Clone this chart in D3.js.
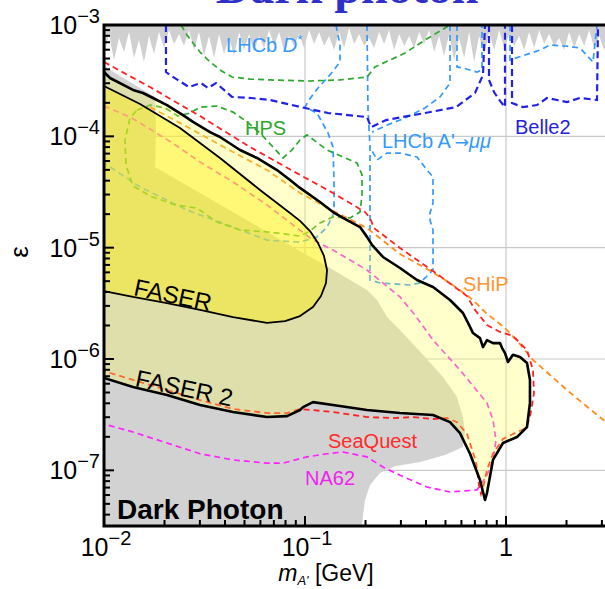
<!DOCTYPE html>
<html><head><meta charset="utf-8">
<script src="https://cdn.jsdelivr.net/npm/d3@7/dist/d3.min.js"></script>
<style>body{margin:0;background:#fff}svg{display:block}</style>
</head><body>
<svg id="c" width="605" height="589"></svg>
<script>
// ---------------- data (mass m in GeV, coupling epsilon) ----------------
const xDomain = [0.01, 3.1623];
const yDomain = [3.1623e-8, 1e-3];
const gridX = [0.1, 1];
const gridY = [1e-4, 1e-5, 1e-6, 1e-7];
const xTickLabels = [{v:0.01, b:"10", e:"\u22122"}, {v:0.1, b:"10", e:"\u22121"}, {v:1, b:"1", e:""}];
const yTickLabels = [{v:1e-3, e:"\u22123"}, {v:1e-4, e:"\u22124"}, {v:1e-5, e:"\u22125"}, {v:1e-6, e:"\u22126"}, {v:1e-7, e:"\u22127"}];

// existing constraints, top (jagged lower boundary)
const topBand = [[0.0100,5.27e-4],[0.01059,8.30e-4],[0.01121,4.85e-4],[0.01188,7.64e-4],[0.01258,5.71e-4],[0.01332,8.65e-4],[0.01410,5.06e-4],[0.01493,7.33e-4],[0.01581,4.66e-4],[0.01675,7.96e-4],[0.01773,5.49e-4],[0.01878,8.65e-4],[0.01989,6.21e-4],[0.02106,9.02e-4],[0.02230,6.75e-4],[0.02362,8.30e-4],[0.02501,6.47e-4],[0.02648,9.02e-4],[0.02805,5.96e-4],[0.02970,8.65e-4],[0.03145,5.27e-4],[0.03331,7.96e-4],[0.03527,5.06e-4],[0.03735,8.30e-4],[0.03955,5.49e-4],[0.04189,7.64e-4],[0.04436,5.27e-4],[0.04697,8.65e-4],[0.04974,5.96e-4],[0.05268,8.30e-4],[0.05578,5.71e-4],[0.05907,7.96e-4],[0.06256,6.21e-4],[0.06625,9.02e-4],[0.07015,6.47e-4],[0.07429,8.65e-4],[0.07867,5.96e-4],[0.08331,7.96e-4],[0.08822,6.47e-4],[0.09342,8.30e-4],[0.09894,6.21e-4],[0.1048,9.02e-4],[0.1110,6.75e-4],[0.1175,8.65e-4],[0.1244,6.47e-4],[0.1318,7.96e-4],[0.1395,5.96e-4],[0.1478,8.65e-4],[0.1565,6.21e-4],[0.1657,9.40e-4],[0.1755,6.75e-4],[0.1858,8.30e-4],[0.1968,6.47e-4],[0.2084,7.64e-4],[0.2207,6.21e-4],[0.2337,8.65e-4],[0.2475,6.75e-4],[0.2621,9.02e-4],[0.2775,5.96e-4],[0.2939,8.30e-4],[0.3112,6.47e-4],[0.3296,7.96e-4],[0.3490,6.21e-4],[0.3696,8.65e-4],[0.3914,6.75e-4],[0.4145,9.02e-4],[0.4389,5.71e-4],[0.4648,7.96e-4],[0.4922,5.27e-4],[0.5212,8.30e-4],[0.5520,4.85e-4],[0.5845,7.64e-4],[0.6190,5.06e-4],[0.6555,8.65e-4],[0.6942,4.66e-4],[0.7351,7.96e-4],[0.7785,5.49e-4],[0.8243,8.65e-4],[0.8730,5.96e-4],[0.9244,9.02e-4],[0.9790,6.21e-4],[1.037,8.30e-4],[1.098,6.47e-4],[1.163,7.96e-4],[1.231,5.96e-4],[1.304,8.65e-4],[1.381,6.21e-4],[1.462,9.02e-4],[1.548,6.75e-4],[1.639,8.30e-4],[1.736,6.47e-4],[1.838,7.64e-4],[1.947,5.96e-4],[2.062,8.65e-4],[2.184,6.21e-4],[2.312,8.30e-4],[2.449,6.47e-4],[2.593,9.02e-4],[2.746,6.21e-4],[2.908,7.96e-4],[3.080,5.96e-4],[3.26,8.30e-4]];

// existing constraints, beam dumps (closed region)
const beamDump = [[0.01,3.16e-8],[0.01,4.28e-4],[0.01347,3.08e-4],[0.01794,2.26e-4],[0.01815,1.14e-4],[0.01794,5.30e-5],[0.03004,3.10e-5],[0.05327,1.70e-5],[0.09443,9.33e-6],[0.1331,6.57e-6],[0.1581,5.45e-6],[0.2034,4.17e-6],[0.2282,3.39e-6],[0.2558,2.38e-6],[0.2969,1.82e-6],[0.3864,1.09e-6],[0.4860,6.89e-7],[0.5705,4.56e-7],[0.6109,2.95e-7],[0.6252,2.21e-7],[0.6109,1.62e-7],[0.4973,1.37e-7],[0.3733,1.19e-7],[0.2804,1.09e-7],[0.2361,9.47e-8],[0.2106,7.38e-8],[0.1989,5.41e-8],[0.1944,3.97e-8],[0.1922,3.16e-8]];

// FASER 2 reach
const faser2 = [[0.0100,3.78e-4],[0.01071,3.34e-4],[0.01394,2.61e-4],[0.01563,2.45e-4],[0.01753,2.21e-4],[0.02058,1.91e-4],[0.02472,1.55e-4],[0.02772,1.35e-4],[0.03369,1.09e-4],[0.03777,9.86e-5],[0.04750,7.54e-5],[0.05770,6.39e-5],[0.07256,4.98e-5],[0.08421,4.05e-5],[0.09443,3.44e-5],[0.1187,2.57e-5],[0.1378,2.09e-5],[0.1545,1.85e-5],[0.1878,1.53e-5],[0.2034,1.25e-5],[0.2154,1.06e-5],[0.2443,8.25e-6],[0.2969,6.57e-6],[0.3607,5.12e-6],[0.4334,4.43e-6],[0.5266,3.39e-6],[0.6109,2.59e-6],[0.6622,1.94e-6],[0.6852,1.71e-6],[0.7424,1.54e-6],[0.7683,1.28e-6],[0.8043,1.48e-6],[0.8614,1.39e-6],[0.9336,1.39e-6],[0.9552,1.26e-6],[0.9886,1.13e-6],[1.023,9.40e-7],[1.083,1.09e-6],[1.174,1.04e-6],[1.272,9.21e-7],[1.316,6.48e-7],[1.316,4.03e-7],[1.272,2.45e-7],[1.134,1.99e-7],[0.9661,1.76e-7],[0.8614,1.24e-7],[0.8043,6.26e-8],[0.7862,5.41e-8],[0.7424,8.19e-8],[0.6622,1.41e-7],[0.5904,2.16e-7],[0.5266,2.71e-7],[0.4334,3.14e-7],[0.2969,3.27e-7],[0.2034,3.48e-7],[0.1378,3.86e-7],[0.1096,4.10e-7],[0.09772,3.70e-7],[0.09443,3.48e-7],[0.08137,3.07e-7],[0.06470,3.01e-7],[0.04384,3.34e-7],[0.03004,3.86e-7],[0.02058,4.76e-7],[0.01394,5.61e-7],[0.0100,6.76e-7]];

// FASER reach
const faser1 = [[0.0100,2.83e-4],[0.01511,1.95e-4],[0.02388,1.19e-4],[0.03777,6.39e-5],[0.05971,3.30e-5],[0.08421,2.05e-5],[0.09443,1.74e-5],[0.1059,1.41e-5],[0.1161,1.10e-5],[0.1243,8.42e-6],[0.1287,6.30e-6],[0.1272,4.82e-6],[0.1201,3.68e-6],[0.1096,2.93e-6],[0.09443,2.43e-6],[0.07954,2.19e-6],[0.06470,2.11e-6],[0.04384,2.38e-6],[0.03004,2.76e-6],[0.02058,3.18e-6],[0.01394,3.61e-6],[0.0100,4.08e-6]];

// SeaQuest
const seaQuest = [[0.0100,4.65e-4],[0.01694,2.77e-4],[0.03004,1.52e-4],[0.05327,8.02e-5],[0.09443,4.50e-5],[0.1378,3.10e-5],[0.1989,2.09e-5],[0.2106,1.85e-5],[0.2204,1.50e-5],[0.2969,9.93e-6],[0.4334,6.17e-6],[0.6397,3.68e-6],[0.7010,2.76e-6],[0.8043,2.02e-6],[0.9336,1.75e-6],[1.083,1.61e-6],[1.272,1.20e-6],[1.362,7.96e-7],[1.378,4.95e-7],[1.316,3.01e-7],[1.258,2.40e-7],[1.083,2.12e-7],[0.9661,1.91e-7],[0.8614,1.41e-7],[0.8043,1.01e-7],[0.7683,6.94e-8],[0.7510,6.13e-8],[0.7339,7.38e-8],[0.7092,1.19e-7],[0.6397,2.12e-7],[0.5705,2.71e-7],[0.5087,2.95e-7],[0.4334,2.89e-7],[0.3446,3.01e-7],[0.2740,2.95e-7],[0.2034,3.01e-7],[0.1378,3.34e-7],[0.09443,3.56e-7],[0.08137,3.27e-7],[0.06470,3.27e-7],[0.04384,3.56e-7],[0.03004,4.28e-7],[0.02058,5.27e-7],[0.01394,6.48e-7],[0.0100,7.80e-7]];

// SHiP
const ship = [[0.01694,1.83e-4],[0.02388,1.32e-4],[0.03004,1.05e-4],[0.04384,7.23e-5],[0.06470,4.98e-5],[0.09443,3.10e-5],[0.1378,2.14e-5],[0.2034,1.50e-5],[0.2969,8.77e-6],[0.4045,6.43e-6],[0.5266,4.82e-6],[0.6852,3.39e-6],[0.8043,2.54e-6],[0.9336,2.06e-6],[1.011,1.82e-6],[1.174,1.36e-6],[1.362,9.80e-7],[1.656,7.18e-7],[2.011,5.27e-7],[2.472,3.86e-7],[3.144,2.72e-7]];

// NA62
const na62 = [[0.0100,1.87e-4],[0.01347,1.49e-4],[0.01753,1.12e-4],[0.02307,8.19e-5],[0.03004,5.88e-5],[0.04384,3.89e-5],[0.06470,2.42e-5],[0.08714,1.60e-5],[0.1096,1.17e-5],[0.1378,9.53e-6],[0.2034,6.30e-6],[0.2969,3.61e-6],[0.3526,2.48e-6],[0.4334,1.48e-6],[0.5904,7.96e-7],[0.8043,4.03e-7],[0.8614,2.83e-7],[0.8918,1.87e-7],[0.8614,1.24e-7],[0.8043,9.03e-8],[0.7173,6.66e-8],[0.5266,6.39e-8],[0.4045,7.08e-8],[0.2969,9.03e-8],[0.2443,1.07e-7],[0.2034,1.32e-7],[0.1545,1.46e-7],[0.1287,1.41e-7],[0.1023,1.32e-7],[0.07772,1.16e-7],[0.06470,1.16e-7],[0.04384,1.24e-7],[0.03004,1.41e-7],[0.02058,1.76e-7],[0.01394,2.21e-7],[0.0100,2.60e-7]];

// HPS
const hpsTop = [[0.02416,1e-3],[0.02588,8.13e-4],[0.02772,6.89e-4],[0.03004,5.72e-4],[0.03291,4.85e-4],[0.03777,3.94e-4],[0.04333,3.41e-4],[0.05327,3.27e-4],[0.06697,3.21e-4],[0.1047,3.14e-4],[0.1493,3.21e-4],[0.2034,3.41e-4],[0.2230,4.20e-4],[0.2648,4.85e-4],[0.3145,5.60e-4],[0.3954,7.33e-4],[0.5266,1e-3]];
const hpsLoop = [[0.01459,1.72e-4],[0.01694,1.91e-4],[0.02011,1.80e-4],[0.02334,1.52e-4],[0.02679,1.62e-4],[0.03004,1.83e-4],[0.03649,1.87e-4],[0.04384,1.65e-4],[0.05146,1.35e-4],[0.05971,1.07e-4],[0.06932,8.02e-5],[0.07772,6.39e-5],[0.08614,7.54e-5],[0.09443,9.27e-5],[0.1023,1.03e-4],[0.1287,7.54e-5],[0.1814,5.76e-5],[0.1922,4.50e-5],[0.1922,2.97e-5],[0.1878,2.09e-5],[0.1674,1.85e-5],[0.1378,1.89e-5],[0.1187,1.67e-5],[0.1059,1.41e-5],[0.09443,1.27e-5],[0.06697,1.38e-5],[0.04750,1.44e-5],[0.03649,1.70e-5],[0.02902,2.27e-5],[0.02255,2.42e-5],[0.01694,2.91e-5],[0.01394,3.58e-5],[0.01287,5.53e-5],[0.01272,9.27e-5],[0.01347,1.46e-4],[0.01459,1.72e-4]];

// LHCb (light blue)
const lhcb1 = [[0.1426,1e-3],[0.1493,6.61e-4],[0.1493,4.65e-4],[0.1331,3.56e-4],[0.1161,2.72e-4],[0.1047,2.12e-4],[0.1000,1.83e-4],[0.1147,1.62e-4],[0.1302,1.07e-4],[0.1378,8.02e-5],[0.1394,4.05e-5],[0.1394,2.05e-5],[0.1287,1.53e-5],[0.1147,1.25e-5],[0.09443,1.12e-5],[0.06470,1.17e-5],[0.04384,1.53e-5],[0.02588,2.18e-5],[0.01511,3.51e-5],[0.0100,5.76e-5]];
const lhcb2 = [[0.2034,1e-3],[0.2058,1.72e-4],[0.2106,8.02e-5],[0.2106,5.12e-6],[0.2361,4.82e-6],[0.3330,4.62e-6],[0.3733,4.82e-6],[0.4334,6.30e-6],[0.4334,1.44e-5],[0.4187,1.77e-5],[0.4187,2.05e-5],[0.4334,2.52e-5],[0.4334,4.31e-5],[0.4045,4.98e-5],[0.3607,6.52e-5],[0.2969,7.08e-5],[0.2558,7.08e-5],[0.2282,6.13e-5],[0.2106,8.02e-5]];
const lhcb3 = [[0.5266,1e-3],[0.5266,3.01e-4],[0.4696,2.26e-4],[0.3954,1.80e-4],[0.3145,1.46e-4],[0.2500,1.24e-4],[0.2154,1.09e-4]];
const lhcb4 = [[0.5705,1e-3],[0.5705,4.20e-4],[0.6109,4.11e-4],[0.7173,3.78e-4],[0.7597,3.94e-4],[0.7597,1e-3]];
const lhcb5 = [[1.047,1e-3],[1.047,4.85e-4],[1.243,5.38e-4],[1.476,5.96e-4],[1.656,6.61e-4],[1.966,6.48e-4],[2.334,6.21e-4],[2.709,4.65e-4],[2.836,1e-3]];

// Belle2 (dark blue)
const belle1 = [[0.02034,1e-3],[0.02034,3.78e-4],[0.02130,3.56e-4],[0.02648,2.77e-4],[0.03038,3.01e-4],[0.03291,2.72e-4],[0.03608,3.01e-4],[0.03954,2.61e-4],[0.04333,2.26e-4],[0.05387,2.21e-4],[0.06697,2.12e-4],[0.09552,1.83e-4],[0.1302,1.62e-4],[0.2034,1.49e-4],[0.2130,1.21e-4],[0.2529,1.40e-4],[0.3954,1.62e-4],[0.5640,1.83e-4],[0.7010,2.45e-4],[0.7683,3.56e-4],[0.7862,1e-3]];
const belle2 = [[0.8230,1e-3],[0.8230,3.21e-4],[0.8717,2.50e-4],[0.9336,2.08e-4],[0.9886,1.83e-4],[0.9886,1e-3]];
const belle3 = [[1.071,1e-3],[1.071,1.99e-4],[1.215,1.83e-4],[1.426,1.91e-4],[1.599,2.21e-4],[1.794,2.12e-4],[2.011,2.03e-4],[2.334,2.21e-4],[2.836,2.12e-4],[2.869,1e-3]];

// annotations
const labels = [
  {t:"HPS", m:0.0503, e:1.02e-4, c:"#2ca82c"},
  {t:"Belle2", m:1.109, e:1.05e-4, c:"#2323dd"},
  {t:"SHiP", m:0.6109, e:4.10e-6, c:"#ff9430"},
  {t:"SeaQuest", m:0.1302, e:1.60e-7, c:"#ff2a2a"},
  {t:"NA62", m:0.1000, e:7.40e-8, c:"#ee22ee"}
];

// ---------------- drawing ----------------
const svg = d3.select("#c");
const x = d3.scaleLog().domain(xDomain).range([104, 606.5]);
const y = d3.scaleLog().domain(yDomain).range([526, 25]);
const [X0, X1] = x.range(), [Y1, Y0] = y.range();

svg.append("rect").attr("width", 605).attr("height", 589).attr("fill", "#fff");
svg.append("defs").append("clipPath").attr("id", "clip")
  .append("rect").attr("x", X0).attr("y", Y0).attr("width", X1 - X0).attr("height", Y1 - Y0);
const g = svg.append("g").attr("clip-path", "url(#clip)");

// grid
g.selectAll(".gx").data(gridX).join("line").attr("x1", d => x(d)).attr("x2", d => x(d))
  .attr("y1", Y0).attr("y2", Y1).attr("stroke", "#c9c9c9").attr("stroke-width", 1.2);
g.selectAll(".gy").data(gridY).join("line").attr("y1", d => y(d)).attr("y2", d => y(d))
  .attr("x1", X0).attr("x2", X1).attr("stroke", "#c9c9c9").attr("stroke-width", 1.2);

const line = d3.line().x(d => x(d[0])).y(d => y(d[1]));

// gray existing constraints
g.append("path").attr("d", line(beamDump) + "Z").attr("fill", "#d2d2d2");
g.append("path").attr("d", d3.area().x(d => x(d[0])).y0(y(1e-3)).y1(d => y(d[1]))(topBand))
  .attr("fill", "#d0d0d0");

// dashed projections
const dashed = [
  {d: lhcb1, c: "#3399ff", w: 1.7, a: "6,4"},
  {d: lhcb2, c: "#3399ff", w: 1.7, a: "6,4"},
  {d: lhcb3, c: "#3399ff", w: 1.7, a: "6,4"},
  {d: lhcb4, c: "#3399ff", w: 1.7, a: "6,4"},
  {d: lhcb5, c: "#3399ff", w: 1.7, a: "6,4"},
  {d: belle1, c: "#2222e6", w: 2.2, a: "7,4"},
  {d: belle2, c: "#2222e6", w: 2.2, a: "7,4"},
  {d: belle3, c: "#2222e6", w: 2.2, a: "7,4"},
  {d: hpsTop, c: "#2ca82c", w: 1.7, a: "6,4"},
  {d: hpsLoop, c: "#2ca82c", w: 1.7, a: "6,4"},
  {d: na62, c: "#ff22ff", w: 1.7, a: "6,4"},
  {d: ship, c: "#ff8c1a", w: 1.8, a: "6,4"},
  {d: seaQuest, c: "#ff2222", w: 1.8, a: "6,4"}
];
g.selectAll(".dl").data(dashed).join("path").attr("d", d => line(d.d)).attr("fill", "none")
  .attr("stroke", d => d.c).attr("stroke-width", d => d.w).attr("stroke-dasharray", d => d.a);

// FASER regions (semi-transparent, above the projections)
g.append("path").attr("d", line(faser2) + "Z").attr("fill", "#ffff55").attr("fill-opacity", 0.3);
g.append("path").attr("d", line(faser1) + "Z").attr("fill", "#ffee00").attr("fill-opacity", 0.42);
g.append("path").attr("d", line(faser2)).attr("fill", "none").attr("stroke", "#000").attr("stroke-width", 2.6).attr("stroke-linejoin", "round");
g.append("path").attr("d", line(faser1)).attr("fill", "none").attr("stroke", "#000").attr("stroke-width", 1.8).attr("stroke-linejoin", "round");

// labels
const F = "Liberation Sans, Arial, sans-serif";
g.selectAll(".lb").data(labels).join("text").attr("x", d => x(d.m)).attr("y", d => y(d.e))
  .attr("font-family", F).attr("font-size", 20).attr("fill", d => d.c).text(d => d.t);
const tD = g.append("text").attr("x", x(0.0405)).attr("y", y(5.72e-4)).attr("font-family", F).attr("font-size", 20).attr("fill", "#3399ff");
tD.append("tspan").text("LHCb ");
tD.append("tspan").attr("font-style", "italic").text("D");
tD.append("tspan").attr("font-size", 13).attr("dy", -8).text("*");
const tA = g.append("text").attr("x", x(0.2416)).attr("y", y(7.9e-5)).attr("font-family", F).attr("font-size", 20).attr("fill", "#3399ff");
tA.append("tspan").text("LHCb A'");
tA.append("tspan").attr("font-family", "DejaVu Sans").attr("font-size", 17).text("\u2192");
tA.append("tspan").attr("font-style", "italic").text("\u03bc\u03bc");
g.append("text").attr("transform", `translate(${x(0.0139)},${y(3.76e-6)}) rotate(12)`)
  .attr("font-family", F).attr("font-size", 24).attr("fill", "#000").text("FASER");
g.append("text").attr("transform", `translate(${x(0.01415)},${y(5.72e-7)}) rotate(12)`)
  .attr("font-family", F).attr("font-size", 24).attr("fill", "#000").text("FASER 2");
g.append("text").attr("x", x(0.01161)).attr("y", y(3.66e-8)).attr("font-family", F)
  .attr("font-size", 28).attr("font-weight", "bold").attr("fill", "#000").text("Dark Photon");

// frame
svg.append("rect").attr("x", X0).attr("y", Y0).attr("width", X1 - X0).attr("height", Y1 - Y0)
  .attr("fill", "none").attr("stroke", "#000").attr("stroke-width", 3);

// ticks (inward)
const isMajor = v => Math.abs(Math.log10(v) - Math.round(Math.log10(v))) < 1e-6;
svg.selectAll(".tx").data(x.ticks()).join("line").attr("x1", d => x(d)).attr("x2", d => x(d))
  .attr("y1", Y1).attr("y2", d => Y1 - (isMajor(d) ? 10 : 6)).attr("stroke", "#000").attr("stroke-width", 2);
svg.selectAll(".ty").data(y.ticks()).join("line").attr("y1", d => y(d)).attr("y2", d => y(d))
  .attr("x1", X0).attr("x2", d => X0 + (isMajor(d) ? 10 : 6)).attr("stroke", "#000").attr("stroke-width", 2);

// tick labels
svg.selectAll(".yl").data(yTickLabels).join("text").attr("x", 100).attr("y", d => y(d.v) + 9)
  .attr("text-anchor", "end").attr("font-family", F).attr("font-size", 25).attr("fill", "#000")
  .each(function(d) {
    const t = d3.select(this);
    t.append("tspan").text("10");
    t.append("tspan").attr("font-size", 20).attr("dy", -11).text(d.e);
  });
svg.selectAll(".xl").data(xTickLabels).join("text").attr("x", d => x(d.v) + (d.e ? 2 : 0)).attr("y", 556)
  .attr("text-anchor", "middle").attr("font-family", F).attr("font-size", 25).attr("fill", "#000")
  .each(function(d) {
    const t = d3.select(this);
    t.append("tspan").text(d.b);
    if (d.e) t.append("tspan").attr("font-size", 20).attr("dy", -11).text(d.e);
  });

// axis titles
const xt = svg.append("text").attr("x", 326).attr("y", 581).attr("text-anchor", "middle")
  .attr("font-family", F).attr("font-size", 23).attr("fill", "#000");
xt.append("tspan").attr("font-style", "italic").text("m");
xt.append("tspan").attr("font-size", 13).attr("dy", 4).attr("font-style", "italic").text("A'");
xt.append("tspan").attr("dy", -4).text(" [GeV]");
svg.append("text").attr("transform", "translate(28,252) rotate(-90)").attr("text-anchor", "middle")
  .attr("font-family", F).attr("font-size", 26).attr("fill", "#000").text("\u03b5");

// title (cropped at the top, as in the source figure)
svg.append("text").attr("x", 347).attr("y", 3).attr("text-anchor", "middle")
  .attr("font-family", "Liberation Serif, Times New Roman, serif").attr("font-size", 48)
  .attr("font-weight", "bold").attr("fill", "#3030c8").text("Dark photon");
</script>
</body></html>
